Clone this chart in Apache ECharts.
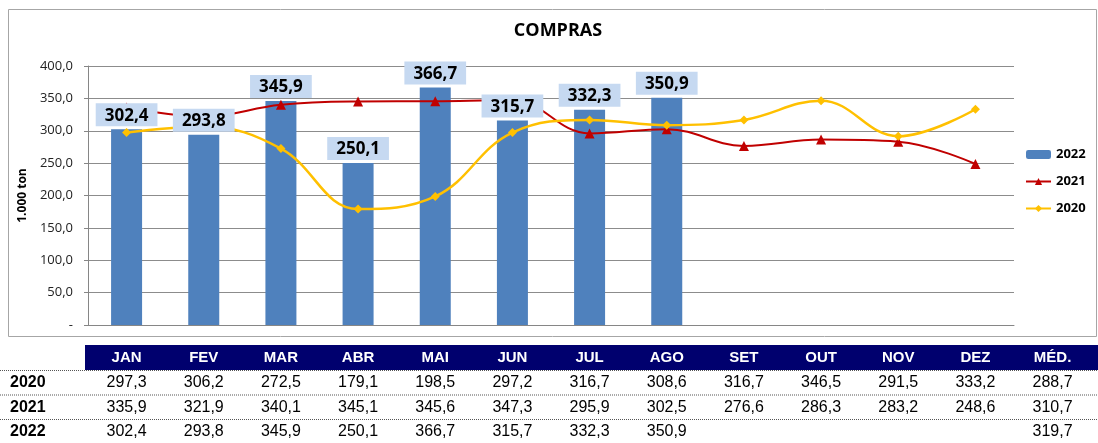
<!DOCTYPE html>
<html>
<head>
<meta charset="utf-8">
<title>COMPRAS</title>
<script src="https://cdn.jsdelivr.net/npm/echarts@6/dist/echarts.min.js"></script>
</head>
<body style="margin:0;background:#fff">
<div id="container" style="width:1098px;height:443px;"></div>
<script type="text/javascript">
var months = ['JAN', 'FEV', 'MAR', 'ABR', 'MAI', 'JUN', 'JUL', 'AGO', 'SET', 'OUT', 'NOV', 'DEZ'];
var yTicks = [0, 50, 100, 150, 200, 250, 300, 350, 400];
var s2022 = [302.4, 293.8, 345.9, 250.1, 366.7, 315.7, 332.3, 350.9, null, null, null, null];
var s2021 = [335.9, 321.9, 340.1, 345.1, 345.6, 347.3, 295.9, 302.5, 276.6, 286.3, 283.2, 248.6];
var s2020 = [297.3, 306.2, 272.5, 179.1, 198.5, 297.2, 316.7, 308.6, 316.7, 346.5, 291.5, 333.2];
var medias = { '2020': 288.7, '2021': 310.7, '2022': 319.7 };

function fmt(v) {
    return v.toFixed(1).replace('.', ',');
}

var option = {
    animation: false,
    title: {
        text: 'COMPRAS', left: 553, top: 17, textAlign: 'center',
        textStyle: { fontFamily: 'Open Sans', fontSize: 18, fontWeight: 'bold', color: '#000' }
    },
    legend: {
        orient: 'vertical', left: 1020, top: 143, itemGap: 14, itemWidth: 25, itemHeight: 9,
        data: ['2022', '2021', '2020'],
        textStyle: { fontFamily: 'Open Sans', fontSize: 13, fontWeight: 'bold', color: '#000' }
    },
    grid: { left: 88, right: 84, top: 66, bottom: 118 },
    xAxis: {
        type: 'category', data: months,
        axisLine: { lineStyle: { color: '#868686' } },
        axisTick: { show: false },
        axisLabel: { show: false }
    },
    yAxis: {
        type: 'value', min: 0, max: 400, interval: 50,
        name: '1.000 ton', nameLocation: 'middle', nameGap: 58, nameRotate: 90,
        nameTextStyle: { fontFamily: 'Open Sans', fontSize: 12, fontWeight: 'bold', color: '#000' },
        axisLine: { show: true, lineStyle: { color: '#868686' } },
        axisTick: { show: true, length: 4, lineStyle: { color: '#868686' } },
        axisLabel: {
            fontFamily: 'Open Sans', fontSize: 13, color: '#222', margin: 15,
            formatter: function (v) { return v === yTicks[0] ? '-' : fmt(v); }
        },
        splitLine: { lineStyle: { color: '#8c8c8c', width: 1 } }
    },
    series: [
        {
            name: '2022', type: 'bar', data: s2022, barWidth: 31, z: 1,
            itemStyle: { color: '#4f81bd' }
        },
        {
            name: '2021', type: 'line', data: s2021, smooth: 0.4, z: 3,
            symbol: 'triangle', symbolSize: 10,
            lineStyle: { color: '#c00000', width: 2 },
            itemStyle: { color: '#c00000' }
        },
        {
            name: '2020', type: 'line', data: s2020, smooth: 0.4, z: 3,
            symbol: 'diamond', symbolSize: 9,
            lineStyle: { color: '#ffc000', width: 2.5 },
            itemStyle: { color: '#ffc000' }
        },
        {
            // rótulos das barras por cima das linhas
            name: 'rotulos', type: 'bar', data: s2022, barWidth: 31, barGap: '-100%', z: 10,
            silent: true,
            itemStyle: { color: 'rgba(0,0,0,0)' },
            label: {
                show: true, position: 'top', distance: 3,
                formatter: function (p) { return fmt(p.value); },
                fontFamily: 'Open Sans', fontSize: 17, fontWeight: 'bold', color: '#000',
                backgroundColor: '#c6d9f1', padding: [4, 9, 2, 9]
            }
        }
    ]
};

var myChart = echarts.init(document.getElementById('container'));
myChart.setOption(option);

// tabela abaixo do gráfico
var colX = [];
for (var i = 0; i < months.length; i++) {
    colX.push(myChart.convertToPixel({ xAxisIndex: 0 }, months[i]));
}
var step = colX[1] - colX[0];
colX.push(colX[11] + step);
var heads = months.concat(['MÉD.']);

var g = [];
// moldura do gráfico
g.push({ type: 'rect', shape: { x: 8.5, y: 9.5, width: 1088, height: 327 }, style: { fill: null, stroke: '#a6a6a6', lineWidth: 1 }, silent: true });
// cabeçalho
g.push({ type: 'rect', shape: { x: 85, y: 345, width: 1013, height: 25 }, style: { fill: '#00006e' }, silent: true });
for (var c = 0; c < heads.length; c++) {
    g.push({ type: 'text', x: colX[c], y: 358, style: { text: heads[c], fill: '#fff', font: 'bold 15px "Liberation Sans"', textAlign: 'center', textVerticalAlign: 'middle' } });
}
var rows = [['2020', s2020], ['2021', s2021], ['2022', s2022]];
for (var r = 0; r < rows.length; r++) {
    var y = 383 + r * 24.5;
    g.push({ type: 'line', shape: { x1: 0, y1: y - 12.5, x2: 1098, y2: y - 12.5 }, style: { stroke: '#555', lineWidth: 1, lineDash: [1, 1] }, silent: true });
    g.push({ type: 'text', x: 10, y: y, style: { text: rows[r][0], fill: '#000', font: 'bold 16px "Liberation Sans"', textAlign: 'left', textVerticalAlign: 'middle' } });
    var vals = rows[r][1];
    for (var k = 0; k < vals.length; k++) {
        if (vals[k] == null) continue;
        g.push({ type: 'text', x: colX[k], y: y, style: { text: fmt(vals[k]), fill: '#000', font: '16px "Liberation Sans"', textAlign: 'center', textVerticalAlign: 'middle' } });
    }
    g.push({ type: 'text', x: colX[12], y: y, style: { text: fmt(medias[rows[r][0]]), fill: '#000', font: '16px "Liberation Sans"', textAlign: 'center', textVerticalAlign: 'middle' } });
}
myChart.setOption({ graphic: g });
</script>
</body>
</html>
